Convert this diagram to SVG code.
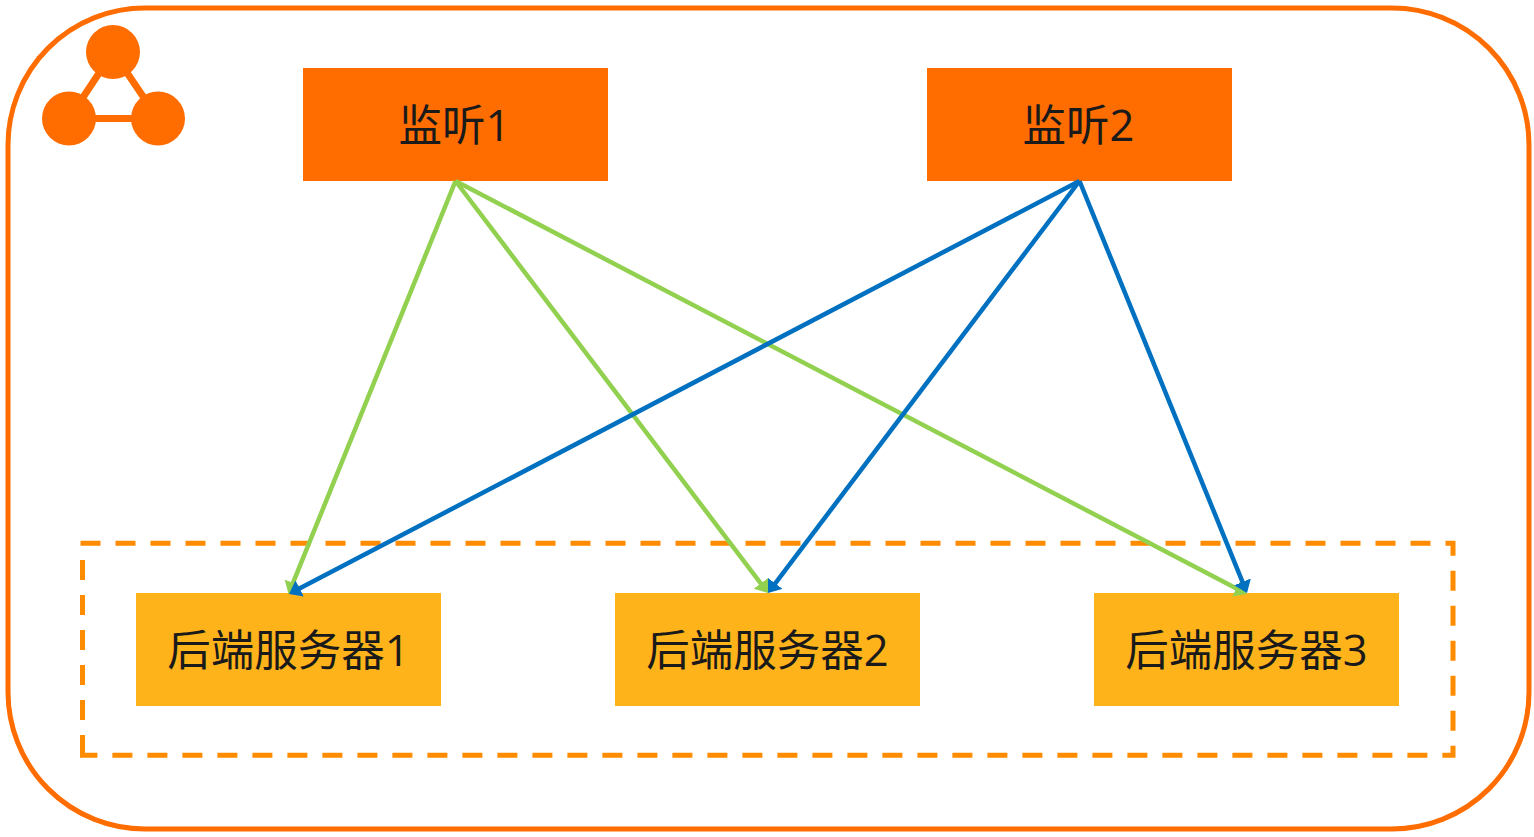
<svg xmlns="http://www.w3.org/2000/svg" width="1534" height="837" viewBox="0 0 1534 837">
<style>
.t{font-family:"Open Sans","Noto Sans CJK SC",sans-serif;font-size:43.500px;fill:#1a1a1a;text-anchor:middle}
.l{fill:#ff6d00}.b{fill:#ffb31a}
.g{fill:none;stroke:#92d050;stroke-width:4.5}
.c{fill:none;stroke:#0070c0;stroke-width:4.5}
.i{fill:#ff6d00}
.d{fill:none;stroke:#ff8c00;stroke-width:5;stroke-dasharray:20 15}
</style>
<defs>
<marker id="ag" markerUnits="userSpaceOnUse" markerWidth="14" markerHeight="20" refX="4" refY="9" orient="auto"><path d="M0 0L12 9L0 18Z" fill="#92d050"/></marker>
<marker id="ab" markerUnits="userSpaceOnUse" markerWidth="14" markerHeight="20" refX="4" refY="9" orient="auto"><path d="M0 0L12 9L0 18Z" fill="#0070c0"/></marker>
</defs>
<rect width="1534" height="837" fill="#fff"/>
<rect id="region" x="8" y="8" width="1521" height="821" rx="137" ry="137" fill="none" stroke="#ff6d00" stroke-width="5"/>
<g id="icon">
<path d="M113 52L69 118.500H158Z" fill="none" stroke="#ff6d00" stroke-width="7"/>
<circle class="i" cx="113" cy="52" r="27"/><circle class="i" cx="69" cy="118.500" r="27"/><circle class="i" cx="158" cy="118.500" r="27"/>
</g>
<g id="group">
<path class="d" d="M80.500 543.300H1453V755.200H80"/>
<path class="d" d="M82.500 560V755"/>
</g>
<g id="n1"><rect class="l" x="303" y="68" width="305" height="113"/><text class="t" x="454.500" y="140.500">监听1</text></g>
<g id="n2"><rect class="l" x="927" y="68" width="305" height="113"/><text class="t" x="1078.500" y="140.500">监听2</text></g>
<g id="s1"><rect class="b" x="136" y="593" width="305" height="113"/><text class="t" x="288.500" y="666">后端服务器1</text></g>
<g id="s2"><rect class="b" x="615" y="593" width="305" height="113"/><text class="t" x="767.500" y="666">后端服务器2</text></g>
<g id="s3"><rect class="b" x="1094" y="593" width="305" height="113"/><text class="t" x="1246.500" y="666">后端服务器3</text></g>
<g id="connectors">
<path class="g" marker-end="url(#ag)" d="M455.500 181L291.500 586.600"/>
<path class="g" marker-end="url(#ag)" d="M455.500 181L763.200 586.600"/>
<path class="g" marker-end="url(#ag)" d="M455.500 181L1239.900 590.300"/>
<path class="c" marker-end="url(#ab)" d="M1079.500 181L296.100 590.300"/>
<path class="c" marker-end="url(#ab)" d="M1079.500 181L772.800 586.600"/>
<path class="c" marker-end="url(#ab)" d="M1079.500 181L1244 585.600"/>
</g>
</svg>
